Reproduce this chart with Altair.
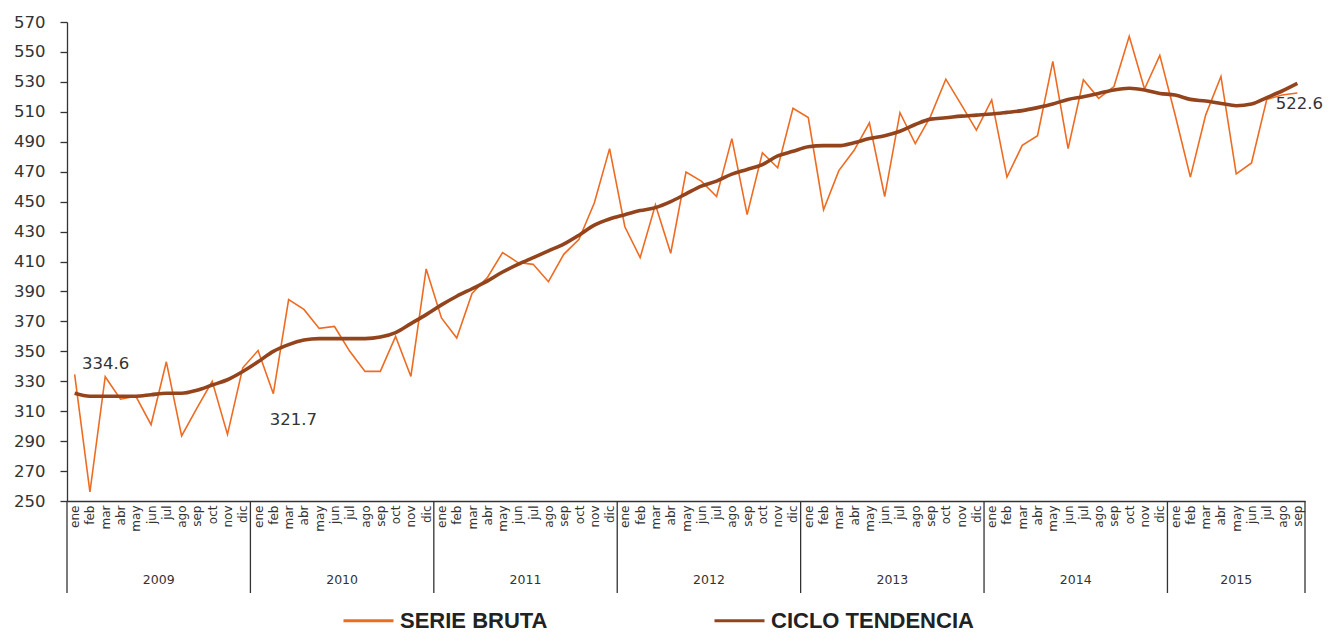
import json
import altair as alt
import pandas as pd

meses = ["ene", "feb", "mar", "abr", "may", "jun", "jul", "ago", "sep", "oct", "nov", "dic"]
anios = [2009, 2010, 2011, 2012, 2013, 2014, 2015]
series = ["SERIE BRUTA", "CICLO TENDENCIA"]
colores = ["#EE6B22", "#94441C"]

serie_bruta = [
    334.6, 256.0, 333.0, 318.0, 320.0, 301.0, 343.0, 293.5, 312.0, 330.0, 294.5, 339.0,
    350.5, 321.7, 384.6, 378.0, 365.3, 366.6, 350.0, 336.6, 336.6, 360.0, 333.2, 405.0,
    372.3, 358.9, 388.6, 399.2, 416.0, 409.3, 408.1, 396.5, 414.8, 424.9, 449.1, 485.4,
    433.2, 412.6, 447.9, 415.5, 469.8, 463.7, 453.4, 492.1, 441.3, 482.6, 472.6, 512.4,
    506.2, 444.6, 470.7, 484.3, 502.7, 453.4, 509.4, 488.8, 507.0, 531.8, 515.0, 497.8,
    518.0, 466.4, 487.6, 494.0, 543.7, 485.4, 531.4, 519.0, 526.9, 560.4, 525.2, 547.7,
    508.0, 466.4, 507.8, 533.6, 468.6, 475.8, 518.3, 521.2, 522.6,
]
ciclo_tendencia = [
    322.0, 320.0, 320.0, 320.0, 320.0, 321.0, 322.0, 322.0, 324.0, 327.5, 331.0, 336.5,
    343.0, 350.0, 354.5, 357.5, 358.5, 358.5, 358.5, 358.5, 359.5, 362.5, 368.5, 374.5,
    381.0, 386.8, 391.8, 396.9, 403.0, 408.1, 412.6, 417.1, 421.6, 427.6, 434.3, 438.4,
    441.3, 444.0, 446.0, 450.0, 455.2, 460.4, 463.7, 468.4, 471.5, 474.7, 480.5, 483.6,
    486.6, 487.4, 487.4, 489.4, 492.1, 494.0, 497.0, 501.5, 505.1, 506.0, 507.1, 507.8,
    508.5, 509.6, 510.8, 512.8, 515.2, 518.3, 520.1, 522.3, 524.6, 525.7, 524.6, 522.3,
    521.2, 518.3, 517.2, 515.6, 514.1, 515.2, 519.5, 523.9, 529.0,
]
etiquetas = ["334.6", "321.7", "522.6"]
etiqueta_idx = [0, 13, 80]

n = len(serie_bruta)
rows = []
for i in range(n):
    rows.append({"i": i, "serie": series[0], "valor": serie_bruta[i]})
    rows.append({"i": i, "serie": series[1], "valor": ciclo_tendencia[i]})
df = pd.DataFrame(rows)

bounds = []
centers = []
for k, a in enumerate(anios):
    first = k * 12
    last = min(first + 11, n - 1)
    bounds.append(first - 0.5)
    centers.append({"anio": str(a), "c": (first + last) / 2})
bounds.append(n - 0.5)
df_b = pd.DataFrame({"b": bounds})
df_c = pd.DataFrame(centers)

FONT = "DejaVu Sans"
AX = "#333333"

xscale = alt.Scale(domain=[-0.5, n - 0.5], nice=False, zero=False)
yscale = alt.Scale(domain=[250, 570], nice=False, zero=False)

label_expr = json.dumps(meses) + "[datum.value % 12]"

x_axis = alt.Axis(
    values=list(range(n)), labelExpr=label_expr, labelAngle=270, labelAlign="right",
    labelBaseline="middle", tickSize=0, labelPadding=4, grid=False, title=None,
    domainColor=AX, domainWidth=1.3, labelFont=FONT, labelFontSize=12, labelColor=AX,
    labelOverlap=False, labelFlush=False, labelBound=False,
)
y_axis = alt.Axis(
    values=list(range(250, 571, 20)), tickSize=7, tickColor=AX, tickWidth=1.3,
    labelPadding=15, grid=False, title=None, domainColor=AX, domainWidth=1.3,
    labelFont=FONT, labelFontSize=16.5, labelColor=AX, labelOverlap=False,
)

X = lambda f: alt.X(f, scale=xscale, axis=x_axis)
Y = lambda f: alt.Y(f, scale=yscale, axis=y_axis)

color = alt.Color(
    "serie:N",
    scale=alt.Scale(domain=series, range=colores),
    sort=series,
    legend=alt.Legend(
        title=None, orient="none", legendX=275, legendY=572, direction="horizontal",
        symbolType="stroke", symbolSize=2500, symbolStrokeWidth=3,
        labelFont="Liberation Sans", labelFontWeight="bold", labelFontSize=22,
        labelColor="#222222", labelOffset=5, columnPadding=160, padding=0,
        labelLimit=400,
    ),
)

bruta = alt.Chart(df[df.serie == series[0]]).mark_line(strokeWidth=1.6).encode(
    x=X("i:Q"), y=Y("valor:Q"), color=color,
)
tend = alt.Chart(df[df.serie == series[1]]).mark_line(strokeWidth=3.6, interpolate="monotone").encode(
    x=X("i:Q"), y=Y("valor:Q"), color=color,
)

seps = alt.Chart(df_b).mark_rule(color=AX, strokeWidth=1.3).encode(
    x=X("b:Q"), y=alt.value(479), y2=alt.value(571)
)
years = alt.Chart(df_c).mark_text(font=FONT, fontSize=12.5, color=AX, baseline="middle").encode(
    x=X("c:Q"), y=alt.value(558), text="anio:N"
)

offsets = [(31, -10), (20, 26), (2, 11)]
label_layers = []
for lab, idx, (dx, dy) in zip(etiquetas, etiqueta_idx, offsets):
    d = pd.DataFrame({"i": [idx], "valor": [serie_bruta[idx]], "t": [lab]})
    label_layers.append(
        alt.Chart(d).mark_text(font=FONT, fontSize=16.5, color=AX, dx=dx, dy=dy, baseline="middle").encode(
            x=X("i:Q"), y=Y("valor:Q"), text="t:N"
        )
    )

chart = alt.layer(bruta, tend, seps, years, *label_layers).properties(
    width=1238, height=479,
    autosize=alt.AutoSizeParams(type="none"),
    padding={"left": 59, "top": 14, "right": 18, "bottom": 132},
).configure_view(stroke=None)

chart.save("out.html", embed_options={"renderer": "svg", "actions": False})
